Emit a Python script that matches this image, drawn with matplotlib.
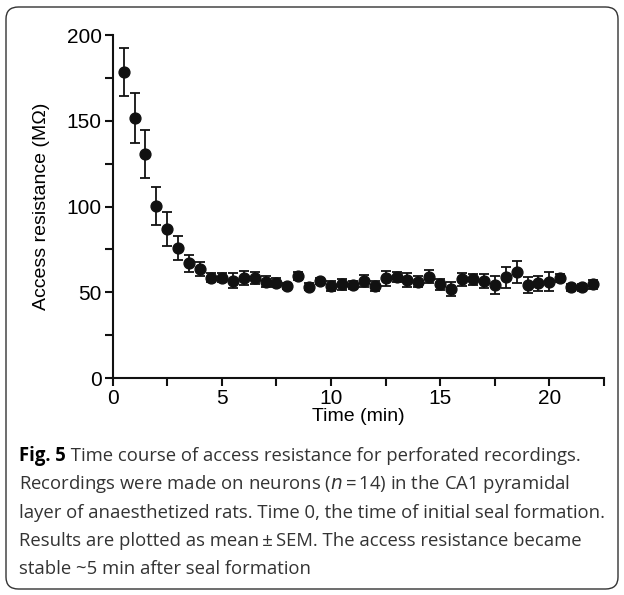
import numpy as np
import matplotlib
matplotlib.use('Agg')
import matplotlib.pyplot as plt
from matplotlib.patches import FancyBboxPatch
from matplotlib.ticker import MultipleLocator

# time points (min) and access resistance (MOhm), mean and SEM
time_min = [0.5, 1.0, 1.5, 2.0, 2.5, 3.0, 3.5, 4.0, 4.5, 5.0, 5.5,
            6.0, 6.5, 7.0, 7.5, 8.0, 8.5, 9.0, 9.5, 10.0, 10.5, 11.0,
            11.5, 12.0, 12.5, 13.0, 13.5, 14.0, 14.5, 15.0, 15.5, 16.0,
            16.5, 17.0, 17.5, 18.0, 18.5, 19.0, 19.5, 20.0, 20.5, 21.0,
            21.5, 22.0]
resistance = [178.4, 151.5, 130.5, 100.5, 86.8, 75.7, 66.9, 63.6, 58.5, 58.5, 56.8,
              58.2, 58.2, 56.2, 55.6, 53.7, 59.5, 53.3, 56.6, 53.7, 54.6, 54.3,
              56.6, 53.9, 58.2, 59.1, 57.2, 56.2, 59.1, 54.6, 51.7, 57.6,
              57.6, 56.8, 54.3, 58.7, 61.7, 54.3, 55.2, 56.2, 58.2, 52.9,
              52.9, 54.6]
sem = [14.0, 14.6, 14.0, 11.0, 10.0, 7.0, 5.0, 4.0, 2.5, 2.5, 4.4,
       4.0, 3.6, 3.3, 2.6, 2.0, 2.5, 2.0, 2.0, 3.0, 3.0, 2.5,
       3.6, 3.0, 4.3, 3.0, 3.9, 3.3, 3.9, 3.3, 4.1, 3.9,
       3.3, 4.0, 5.5, 6.1, 6.5, 4.5, 4.4, 5.6, 2.4, 2.0,
       2.0, 2.7]

caption = [
    ("Fig. 5", " Time course of access resistance for perforated recordings."),
    ("", "Recordings were made on neurons ($\\it{n}$\u2009=\u200914) in the CA1 pyramidal"),
    ("", "layer of anaesthetized rats. Time 0, the time of initial seal formation."),
    ("", "Results are plotted as mean\u2009\u00b1\u2009SEM. The access resistance became"),
    ("", "stable ~5 min after seal formation"),
]

plt.rcParams['font.family'] = ['Liberation Sans', 'DejaVu Sans']

fig = plt.figure(figsize=(6.24, 5.95), dpi=100)

# rounded frame around figure + caption
frame = FancyBboxPatch((6 / 624, 6 / 595), 612 / 624, 582 / 595,
                       boxstyle="round,pad=0,rounding_size=0.02",
                       transform=fig.transFigure, fill=False,
                       edgecolor='#333333', linewidth=1.0)
fig.patches.append(frame)

ax = fig.add_axes([112.7 / 624, 1 - 378 / 595, 491.3 / 624, 342.7 / 595])
ax.errorbar(time_min, resistance, yerr=sem, fmt='o', color='#111111',
            markersize=7.8, elinewidth=1.3, capsize=3.8, capthick=1.3,
            clip_on=False, zorder=3)

ax.set_xlim(0, 22.5)
ax.set_ylim(0, 200)
ax.xaxis.set_major_locator(MultipleLocator(5))
ax.xaxis.set_minor_locator(MultipleLocator(2.5))
ax.yaxis.set_major_locator(MultipleLocator(50))
ax.yaxis.set_minor_locator(MultipleLocator(25))
for side in ['top', 'right']:
    ax.spines[side].set_visible(False)
for side in ['left', 'bottom']:
    ax.spines[side].set_linewidth(1.5)
    ax.spines[side].set_color('#111111')
ax.tick_params(which='both', direction='out', length=5.5, width=1.5,
               color='#111111', labelsize=15, pad=2.5)
ax.set_xlabel('Time (min)', fontsize=14, labelpad=0)
ax.set_ylabel('Access resistance (M\u03a9)', fontsize=14)
ax.yaxis.set_label_coords(-0.128, 0.5)

# caption
cap_font = ['Open Sans', 'DejaVu Sans']
y0 = 1 - 456 / 595
for i, (bold, text) in enumerate(caption):
    y = y0 - i * 28.3 / 595
    x = 19 / 624
    if bold:
        t = fig.text(x, y, bold, fontsize=13.35, fontweight='bold',
                     family=cap_font, va='center')
        fig.canvas.draw()
        bb = t.get_window_extent()
        x = bb.x1 / 624
    fig.text(x, y, text, fontsize=13.35, family=cap_font, va='center',
             color='#333333')

fig.savefig('out.png', dpi=100)
